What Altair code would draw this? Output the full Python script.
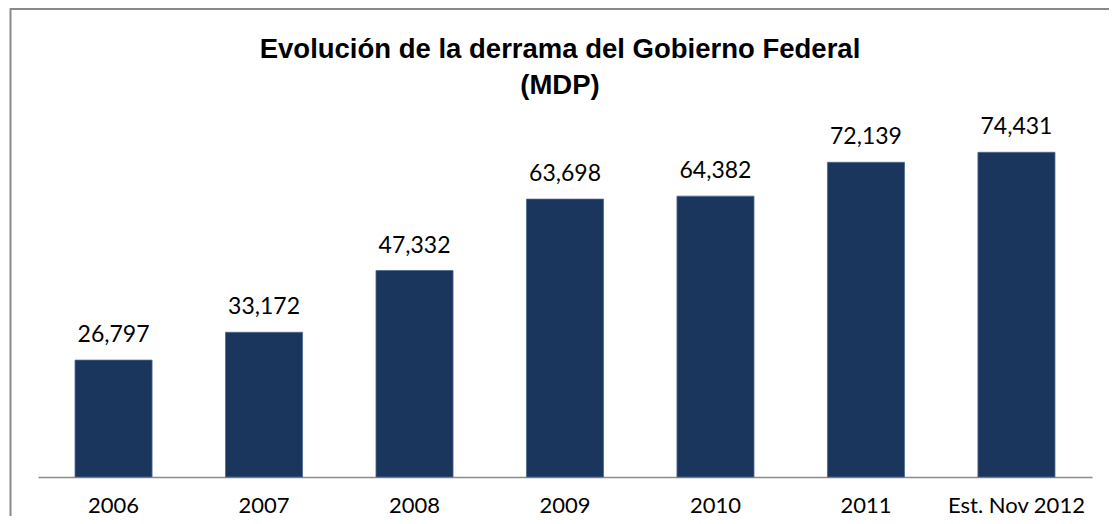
import altair as alt
import pandas as pd

categories = ["2006", "2007", "2008", "2009", "2010", "2011", "Est. Nov 2012"]
values = [26797, 33172, 47332, 63698, 64382, 72139, 74431]
title_lines = ["Evolución de la derrama del Gobierno Federal", "(MDP)"]

df = pd.DataFrame({"year": categories, "value": values})

FONT = "Lato"
TITLE_FONT = "Liberation Sans"
BAR = "#1A365D"
GRAY = "#8A8A8A"

x_enc = alt.X(
    "year:N",
    sort=categories,
    scale=alt.Scale(paddingInner=0.488, paddingOuter=0.246),
    axis=alt.Axis(
        title=None,
        labelAngle=0,
        ticks=False,
        tickSize=0,
        labelPadding=35,
        labelBaseline="alphabetic",
        labelFont=FONT,
        labelFontSize=22,
        labelColor="#000000",
        domainColor=GRAY,
        domainWidth=1.5,
        grid=False,
    ),
)
y_enc = alt.Y("value:Q", scale=alt.Scale(domain=[0, 80000]), axis=None)

base = alt.Chart(df)

bars = base.mark_bar(color=BAR, stroke="#4C6890", strokeWidth=0.8).encode(x=x_enc, y=y_enc)

labels = base.mark_text(
    font=FONT, fontSize=23, color="#000000", baseline="alphabetic", dy=-18
).encode(x=x_enc, y=y_enc, text=alt.Text("value:Q", format=","))

one = alt.Chart(pd.DataFrame({"a": [0]}))
title = one.mark_text(
    font=TITLE_FONT, fontSize=27.5, fontWeight="bold", color="#000000",
    align="center", baseline="alphabetic", lineHeight=36,
).encode(x=alt.value(522), y=alt.value(-70), text=alt.value(title_lines))

left_border = one.mark_rule(color=GRAY, strokeWidth=2).encode(
    x=alt.value(-27.5), y=alt.value(-120), y2=alt.value(389)
)
top_border = one.mark_rule(color=GRAY, strokeWidth=2).encode(
    x=alt.value(-28), x2=alt.value(1071), y=alt.value(-119)
)

chart = (
    alt.layer(bars, labels, title, left_border, top_border)
    .properties(
        width=1054,
        height=349,
        background="#FFFFFF",
        autosize=alt.AutoSizeParams(type="none"),
        padding={"left": 30, "top": 120, "right": 17, "bottom": 39},
    )
    .configure_view(strokeWidth=0, stroke="transparent")
)

chart.save("out.html", embed_options={"renderer": "svg", "actions": False})
